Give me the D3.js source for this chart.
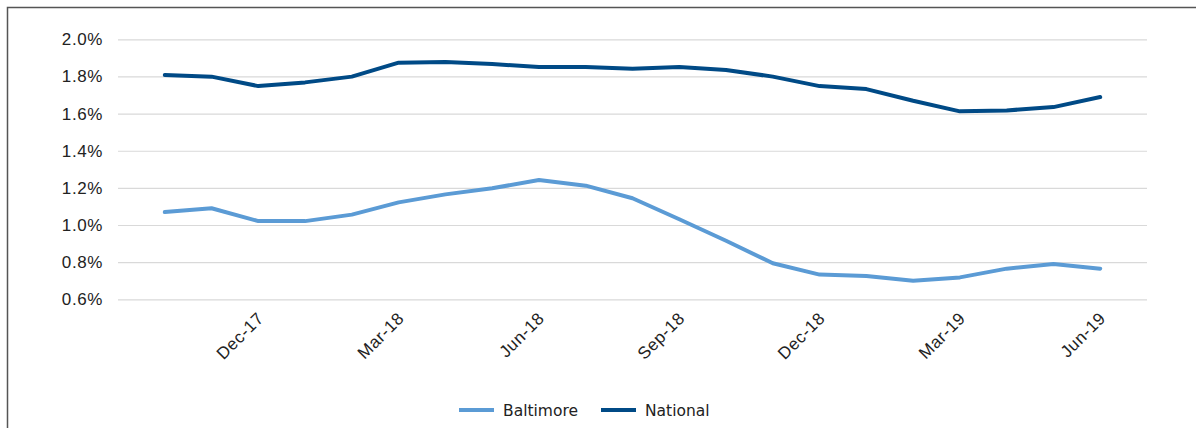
<!DOCTYPE html>
<html>
<head>
<meta charset="utf-8">
<script src="https://cdn.jsdelivr.net/npm/d3@7"></script>
<style>
  html, body { margin: 0; padding: 0; background: #fff; }
  svg { display: block; font-family: "DejaVu Sans", "Noto Sans", sans-serif; }
</style>
</head>
<body>
<svg id="chart" width="1196" height="428"></svg>
<script>
// Monthly rates, Oct-17 through Jun-19
const months = ["Oct-17","Nov-17","Dec-17","Jan-18","Feb-18","Mar-18","Apr-18","May-18","Jun-18",
  "Jul-18","Aug-18","Sep-18","Oct-18","Nov-18","Dec-18","Jan-19","Feb-19","Mar-19","Apr-19","May-19","Jun-19"];
const baltimore = [1.070,1.090,1.021,1.021,1.056,1.122,1.165,1.198,1.242,1.212,1.144,1.031,0.915,0.794,
  0.733,0.726,0.700,0.718,0.765,0.790,0.765];
const national = [1.808,1.799,1.748,1.768,1.799,1.874,1.878,1.867,1.851,1.851,1.842,1.851,1.835,1.799,
  1.748,1.732,1.669,1.612,1.617,1.635,1.689];
const tickLabels = ["Dec-17","Mar-18","Jun-18","Sep-18","Dec-18","Mar-19","Jun-19"];
const yTicks = [0.6,0.8,1.0,1.2,1.4,1.6,1.8,2.0];
const seriesNames = ["Baltimore","National"];
const seriesColors = ["#5b9bd5","#004a86"];

const svg = d3.select("#chart");

// frame
svg.append("path")
  .attr("d", "M7.5,428 V7.5 H1196")
  .attr("fill", "none")
  .attr("stroke", "#555")
  .attr("stroke-width", 1.5);

const plot = { left: 118, right: 1147, top: 39.3, bottom: 299.3 };

// category positions with one empty slot on each side
const x = d3.scaleLinear().domain([-1, months.length]).range([plot.left, plot.right]);
const y = d3.scaleLinear().domain([0.6, 2.0]).range([plot.bottom, plot.top]);

// gridlines and y labels
const yAxis = d3.axisLeft(y)
  .tickValues(yTicks)
  .tickSize(-(plot.right - plot.left))
  .tickPadding(15)
  .tickFormat(d => d.toFixed(1) + "%");
const gy = svg.append("g").attr("transform", `translate(${plot.left},0)`).call(yAxis);
gy.select(".domain").remove();
gy.selectAll(".tick line").attr("stroke", "#d9d9d9").attr("stroke-width", 1.2);
gy.selectAll(".tick text")
  .attr("fill", "#222")
  .attr("font-size", 17)
  .attr("letter-spacing", 0.6)
  .attr("x", -15);

// x labels
const xAxis = d3.axisBottom(x)
  .tickValues(tickLabels.map(t => months.indexOf(t)))
  .tickSize(0)
  .tickFormat(i => months[i]);
const gx = svg.append("g").attr("transform", `translate(0,${plot.bottom})`).call(xAxis);
gx.select(".domain").remove();
gx.selectAll(".tick text")
  .attr("fill", "#222")
  .attr("font-size", 17)
  .attr("letter-spacing", 0.6)
  .attr("text-anchor", "end")
  .attr("dy", 0)
  .attr("y", 0)
  .attr("transform", "translate(6,20) rotate(-45)");

// lines
const line = d3.line().x((d, i) => x(i)).y(d => y(d));
[baltimore, national].forEach((vals, k) => {
  svg.append("path")
    .datum(vals)
    .attr("d", line)
    .attr("fill", "none")
    .attr("stroke", seriesColors[k])
    .attr("stroke-width", 4)
    .attr("stroke-linejoin", "round")
    .attr("stroke-linecap", "round");
});

// legend
const legendX = [459, 601];
seriesNames.forEach((name, k) => {
  const g = svg.append("g").attr("transform", `translate(${legendX[k]},410)`);
  g.append("line").attr("x1", 0).attr("x2", 35).attr("y1", 0).attr("y2", 0)
    .attr("stroke", seriesColors[k]).attr("stroke-width", 4);
  g.append("text").attr("x", 44).attr("y", 5.5)
    .attr("font-size", 15.5).attr("fill", "#222").text(name);
});
</script>
</body>
</html>
